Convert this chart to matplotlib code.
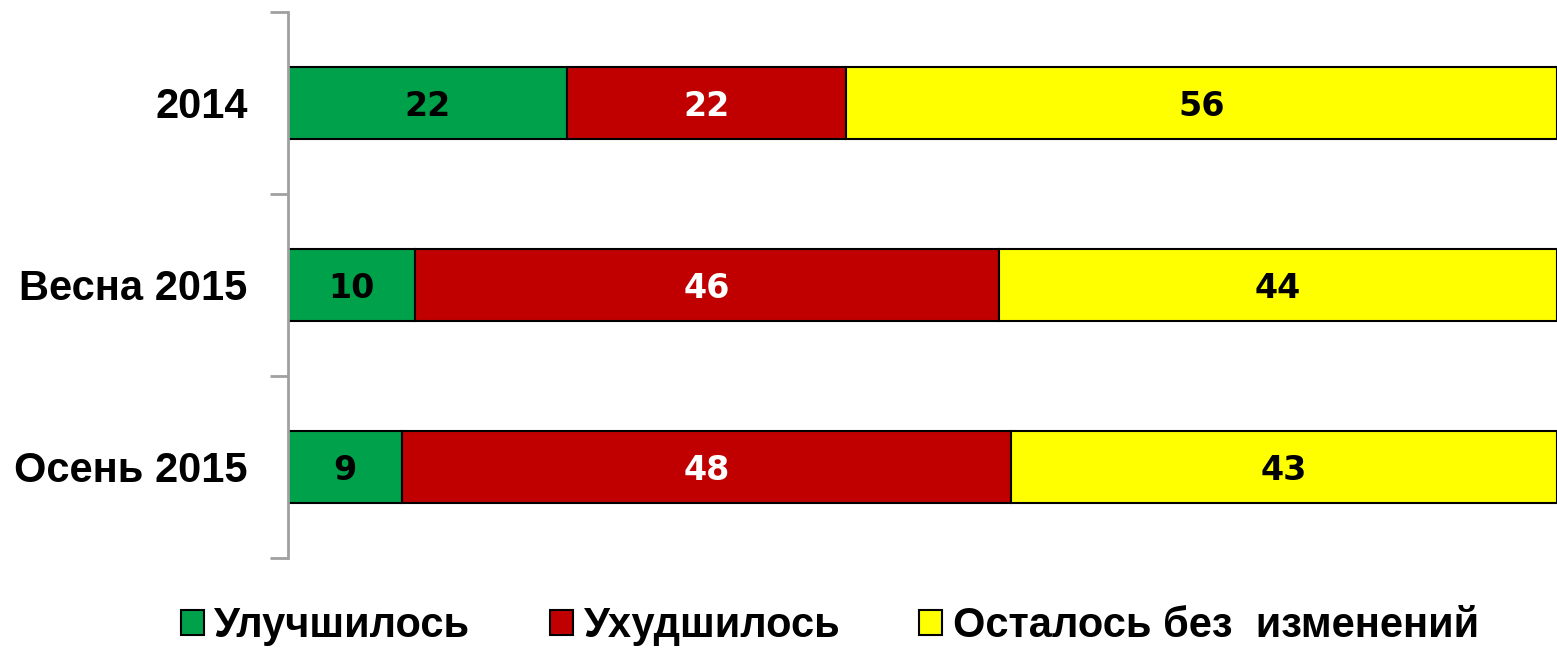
import matplotlib.pyplot as plt
import numpy as np
from matplotlib.patches import Patch

categories = ["2014", "Весна 2015", "Осень 2015"]
better = [22, 10, 9]
worse = [22, 46, 48]
same = [56, 44, 43]
series_names = ["Улучшилось", "Ухудшилось", "Осталось без  изменений"]
colors = ["#00A14B", "#C00000", "#FFFF00"]
label_colors = ["black", "white", "black"]

fig = plt.figure(figsize=(15.57, 6.48), dpi=100)
ax = fig.add_axes([288 / 1557, 90 / 648, 1 - 288 / 1557, 546 / 648])

y = np.arange(len(categories))
left = np.zeros(len(categories))
for vals, col, lc in zip([better, worse, same], colors, label_colors):
    bars = ax.barh(y, vals, left=left, height=0.4, color=col,
                   edgecolor="black", linewidth=1.5)
    for b, v in zip(bars, vals):
        ax.text(b.get_x() + b.get_width() / 2, b.get_y() + b.get_height() / 2 + 0.02,
                str(v), ha="center", va="center", color=lc,
                fontsize=24, fontweight="bold", family="DejaVu Sans")
    left += vals

ax.set_xlim(0, 100)
ax.set_ylim(len(categories) - 0.5, -0.5)
ax.set_yticks(np.arange(-0.5, len(categories)), minor=True)
ax.set_yticks(y)
ax.set_yticklabels(categories, fontsize=30, fontweight="bold",
                   family="Liberation Sans")
ax.tick_params(axis="y", which="major", length=0, pad=29)
ax.tick_params(axis="y", which="minor", length=13, width=2, color="#A0A0A0")
ax.set_xticks([])
for s in ["top", "right", "bottom"]:
    ax.spines[s].set_visible(False)
ax.spines["left"].set_color("#A0A0A0")
ax.spines["left"].set_linewidth(2)

handles = [Patch(facecolor=c, edgecolor="black", linewidth=1.5) for c in colors]
fig.legend(handles, series_names, loc="center",
           bbox_to_anchor=(830 / 1557, 1 - 626 / 648),
           ncol=3, frameon=False, handlelength=0.55, handleheight=0.53,
           handletextpad=0.26, columnspacing=1.9,
           prop={"family": "Liberation Sans", "weight": "bold", "size": 30})

fig.savefig("out.png", dpi=100)
